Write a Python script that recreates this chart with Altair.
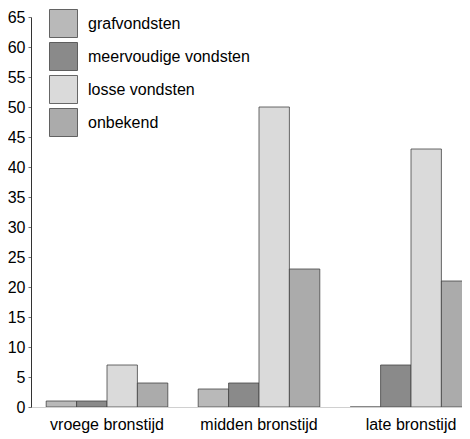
import altair as alt
import pandas as pd

periods = ["vroege bronstijd", "midden bronstijd", "late bronstijd"]
series = ["grafvondsten", "meervoudige vondsten", "losse vondsten", "onbekend"]
grafvondsten = [1, 3, 0]
meervoudige = [1, 4, 7]
losse = [7, 50, 43]
onbekend = [4, 23, 21]
y_ticks = list(range(0, 70, 5))
colors = ["#b9b9b9", "#8a8a8a", "#dadada", "#ababab"]

rows = []
for name, vals in zip(series, [grafvondsten, meervoudige, losse, onbekend]):
    for p, v in zip(periods, vals):
        rows.append({"periode": p, "soort": name, "aantal": v})
df = pd.DataFrame(rows)

FONT = "Liberation Sans"

chart = alt.Chart(df).mark_bar(
    stroke="#444444", strokeWidth=0.8, clip=True
).encode(
    x=alt.X("periode:N", sort=periods, title=None,
            scale=alt.Scale(range=[0, 456], paddingInner=0.2, paddingOuter=0.1),
            axis=alt.Axis(labelAngle=0, labelFontSize=16, labelFont=FONT,
                          labelColor="#000000", ticks=False, domain=True,
                          domainColor="#d0d0d0", labelPadding=9)),
    xOffset=alt.XOffset("soort:N", sort=series,
                        scale=alt.Scale(paddingInner=0, paddingOuter=0)),
    y=alt.Y("aantal:Q", title=None,
            scale=alt.Scale(domain=[0, 65], nice=False),
            axis=alt.Axis(values=y_ticks, grid=False, labelFontSize=16,
                          labelFont=FONT, labelColor="#000000",
                          domainColor="#333333", tickColor="#777777",
                          tickSize=3, labelPadding=3)),
    fill=alt.Fill("soort:N", sort=series,
                  scale=alt.Scale(domain=series, range=colors),
                  legend=alt.Legend(title=None, orient="none", legendX=18,
                                    legendY=-8, symbolType="square",
                                    symbolSize=784, symbolStrokeColor="#444444",
                                    symbolStrokeWidth=0.8, symbolOpacity=1,
                                    labelFontSize=16, labelFont=FONT,
                                    labelColor="#000000", labelOffset=10,
                                    labelLimit=400, rowPadding=0, padding=0)),
).properties(
    width=431, height=390,
    autosize=alt.AutoSizeParams(type="none"),
    padding={"left": 23, "top": 9, "right": 0, "bottom": 30},
).configure_view(stroke=None)

chart.save("out.html", embed_options={"renderer": "svg", "actions": False})
